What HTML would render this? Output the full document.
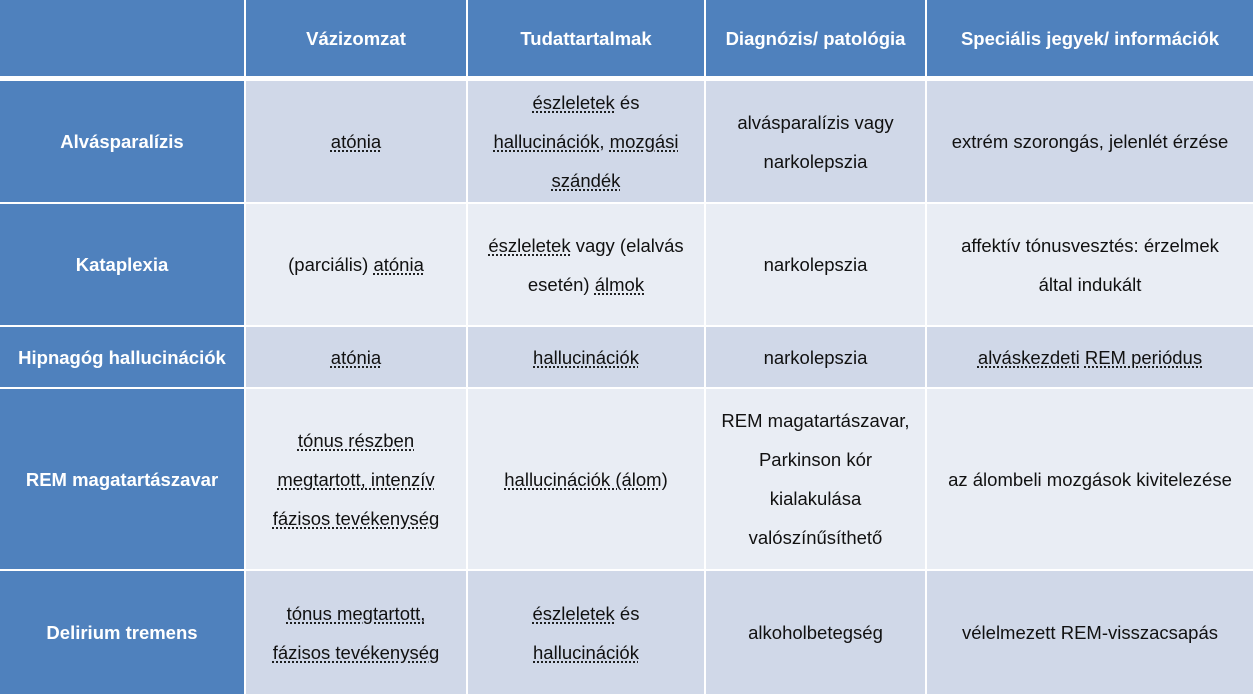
<!DOCTYPE html>
<html><head><meta charset="utf-8"><style>
body{margin:0;width:1253px;height:694px;background:#fff;position:relative;overflow:hidden;font-family:"Liberation Sans",sans-serif;font-size:18.5px;color:#111}
.c{position:absolute;display:flex;align-items:center;justify-content:center;text-align:center;line-height:39px;box-sizing:border-box;padding:0 4px}
.h{background:#4f81bd;color:#fff;font-weight:bold}
.a{background:#d0d8e8}.b{background:#e9edf4}
u{text-decoration:underline dotted;text-underline-offset:3px}
</style></head><body>
<div class="c h" style="left:0;top:0;width:244px;height:76px"></div>
<div class="c h" style="left:246px;top:0;width:220px;height:76px">Vázizomzat</div>
<div class="c h" style="left:468px;top:0;width:236px;height:76px">Tudattartalmak</div>
<div class="c h" style="left:706px;top:0;width:219px;height:76px">Diagnózis/ patológia</div>
<div class="c h" style="left:927px;top:0;width:326px;height:76px">Speciális jegyek/ információk</div>

<div class="c h" style="left:0;top:81px;width:244px;height:121px">Alvásparalízis</div>
<div class="c a" style="left:246px;top:81px;width:220px;height:121px"><u>atónia</u></div>
<div class="c a" style="left:468px;top:81px;width:236px;height:121px"><span><u>észleletek</u> és<br><u>hallucinációk</u>, <u>mozgási</u><br><u>szándék</u></span></div>
<div class="c a" style="left:706px;top:81px;width:219px;height:121px"><span>alvásparalízis vagy<br>narkolepszia</span></div>
<div class="c a" style="left:927px;top:81px;width:326px;height:121px">extrém szorongás, jelenlét érzése</div>

<div class="c h" style="left:0;top:204px;width:244px;height:121px">Kataplexia</div>
<div class="c b" style="left:246px;top:204px;width:220px;height:121px"><span>(parciális) <u>atónia</u></span></div>
<div class="c b" style="left:468px;top:204px;width:236px;height:121px"><span><u>észleletek</u> vagy (elalvás<br>esetén) <u>álmok</u></span></div>
<div class="c b" style="left:706px;top:204px;width:219px;height:121px">narkolepszia</div>
<div class="c b" style="left:927px;top:204px;width:326px;height:121px"><span>affektív tónusvesztés: érzelmek<br>által indukált</span></div>

<div class="c h" style="left:0;top:327px;width:244px;height:60px;white-space:nowrap">Hipnagóg hallucinációk</div>
<div class="c a" style="left:246px;top:327px;width:220px;height:60px"><u>atónia</u></div>
<div class="c a" style="left:468px;top:327px;width:236px;height:60px"><u>hallucinációk</u></div>
<div class="c a" style="left:706px;top:327px;width:219px;height:60px">narkolepszia</div>
<div class="c a" style="left:927px;top:327px;width:326px;height:60px"><span><u>alváskezdeti</u> <u>REM periódus</u></span></div>

<div class="c h" style="left:0;top:389px;width:244px;height:180px">REM magatartászavar</div>
<div class="c b" style="left:246px;top:389px;width:220px;height:180px"><span><u>tónus részben</u><br><u>megtartott, intenzív</u><br><u>fázisos tevékenység</u></span></div>
<div class="c b" style="left:468px;top:389px;width:236px;height:180px"><u>hallucinációk (álom)</u></div>
<div class="c b" style="left:706px;top:389px;width:219px;height:180px"><span>REM magatartászavar,<br>Parkinson kór<br>kialakulása<br>valószínűsíthető</span></div>
<div class="c b" style="left:927px;top:389px;width:326px;height:180px">az álombeli mozgások kivitelezése</div>

<div class="c h" style="left:0;top:571px;width:244px;height:123px">Delirium tremens</div>
<div class="c a" style="left:246px;top:571px;width:220px;height:123px"><span><u>tónus megtartott,</u><br><u>fázisos tevékenység</u></span></div>
<div class="c a" style="left:468px;top:571px;width:236px;height:123px"><span><u>észleletek</u> és<br><u>hallucinációk</u></span></div>
<div class="c a" style="left:706px;top:571px;width:219px;height:123px">alkoholbetegség</div>
<div class="c a" style="left:927px;top:571px;width:326px;height:123px">vélelmezett REM-visszacsapás</div>
</body></html>
